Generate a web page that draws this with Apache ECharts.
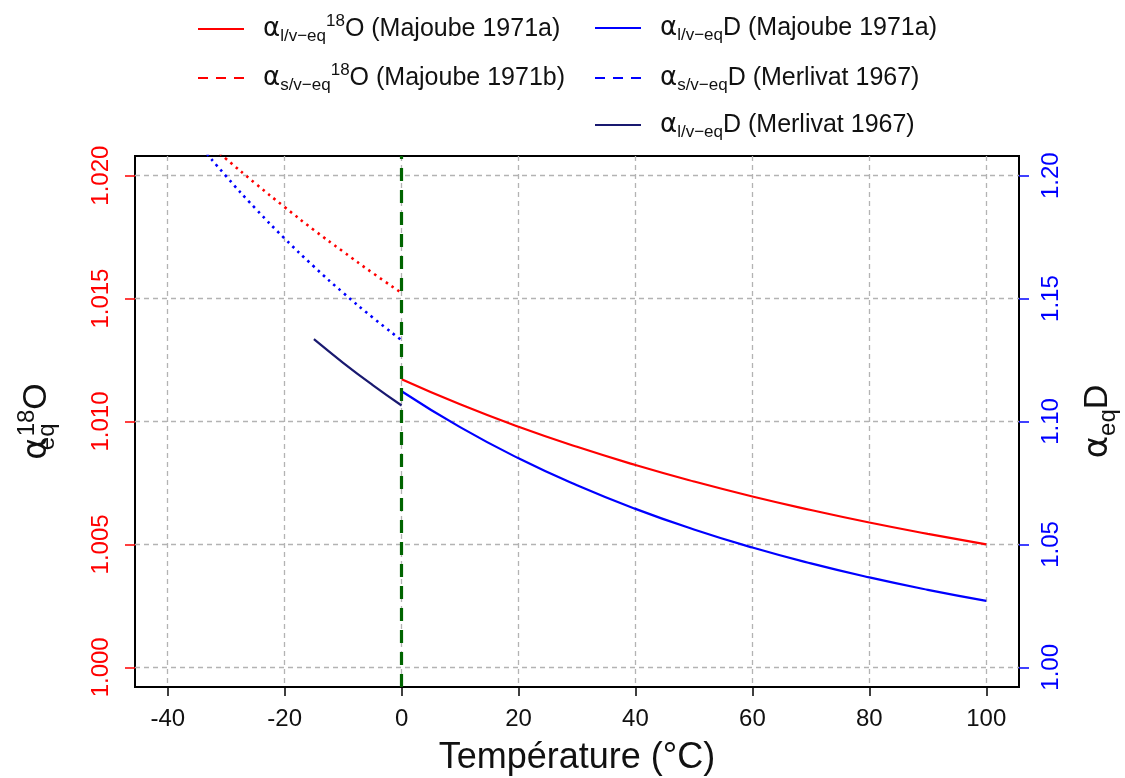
<!DOCTYPE html>
<html><head><meta charset="utf-8">
<script src="https://cdn.jsdelivr.net/npm/echarts@6/dist/echarts.min.js"></script>
<style>html,body{margin:0;padding:0;background:#fff}#c{width:1125px;height:778px}</style>
</head><body><div id="c"></div>
<script>
// ---- data ----
const tempLiquid = [0, 10, 20, 30, 40, 50, 60, 70, 80, 90, 100];
const alphaO18LiquidMajoube = [1.01172, 1.01070, 1.00979, 1.00897, 1.00823, 1.00756, 1.00695, 1.00640, 1.00589, 1.00543, 1.00500];
const alphaDLiquidMajoube = [1.11232, 1.09770, 1.08503, 1.07405, 1.06446, 1.05609, 1.04873, 1.04227, 1.03657, 1.03153, 1.02706];
const tempSolid = [-40, -35, -30, -25, -20, -15, -10, -5, 0];
const alphaO18SolidMajoube = [1.02281, 1.02172, 1.02068, 1.01968, 1.01872, 1.01779, 1.01691, 1.01605, 1.01523];
const alphaDSolidMerlivat = [1.22903, 1.21385, 1.19975, 1.18663, 1.17442, 1.16302, 1.15236, 1.14240, 1.13304];
const tempLiquidMerlivat = [-15, -10, -5, 0];
const alphaDLiquidMerlivat = [1.13347, 1.12389, 1.11493, 1.10652];
const xTicks = [-40, -20, 0, 20, 40, 60, 80, 100];
const yTicksO18 = [1.000, 1.005, 1.010, 1.015, 1.020];
const yTicksD = [1.00, 1.05, 1.10, 1.15, 1.20];
const freezingPoint = 0;

const seriesNames = {
  o18l: '{g|}{a|α}{sub|l/v−eq}{sup|18}{m|O (Majoube 1971a)}',
  o18s: '{g|}{a|α}{sub|s/v−eq}{sup|18}{m|O (Majoube 1971b)}',
  dlm: '{g|}{a|α}{sub|l/v−eq}{m|D (Majoube 1971a)}',
  dsm: '{g|}{a|α}{sub|s/v−eq}{m|D (Merlivat 1967)}',
  dlme: '{g|}{a|α}{sub|l/v−eq}{m|D (Merlivat 1967)}'
};

const FONT = 'Liberation Sans, Arial, sans-serif';
const AFONT = 'DejaVu Sans, sans-serif';
const TXT = '#111';
const zip = (xs, ys) => xs.map((x, i) => [x, ys[i]]);

const legendRich = {
  g: { width: 14, fontSize: 25, lineHeight: 32 },
  a: { fontSize: 26, lineHeight: 32, fontFamily: AFONT, color: TXT },
  m: { fontSize: 25, lineHeight: 32, fontFamily: FONT, color: TXT },
  sub: { fontSize: 17, lineHeight: 13, verticalAlign: 'bottom', fontFamily: FONT, color: TXT },
  sup: { fontSize: 17, lineHeight: 15, verticalAlign: 'top', fontFamily: FONT, color: TXT }
};
function mkLegend(name, left, top, dashed) {
  const l = {
    data: [name], left: left, top: top, orient: 'horizontal',
    itemWidth: 46, itemHeight: 14, padding: 0,
    selectedMode: false,
    itemStyle: { opacity: 0 },
    formatter: n => seriesNames[n],
    textStyle: { fontSize: 25, fontFamily: FONT, color: TXT, rich: legendRich }
  };
  if (dashed) l.lineStyle = { type: [10, 8] };
  return l;
}

const gridLine = { show: true, lineStyle: { color: '#b3b3b3', type: [5, 4], width: 1.3 } };

const option = {
  backgroundColor: '#fff',
  animation: false,
  grid: { left: 135, right: 106, top: 156, bottom: 91, show: true, borderColor: '#000', borderWidth: 2,
          backgroundColor: 'transparent', containLabel: false, outerBoundsMode: 'none' },
  legend: [
    mkLegend('o18l', 197, 13, false),
    mkLegend('o18s', 197, 62, true),
    mkLegend('dlm', 594, 15, false),
    mkLegend('dsm', 594, 65, true),
    mkLegend('dlme', 594, 112, false)
  ],
  xAxis: {
    type: 'value', min: -45.6, max: 105.6,
    name: 'Température (°C)', nameLocation: 'middle', nameGap: 53,
    nameTextStyle: { fontSize: 36, fontFamily: FONT, color: TXT },
    axisLine: { show: false, onZero: false },
    axisTick: { show: true, length: 9, customValues: xTicks, lineStyle: { color: '#000', width: 1.5 } },
    axisLabel: { customValues: xTicks, fontSize: 24, fontFamily: FONT, color: TXT, margin: 20 },
    splitLine: gridLine
  },
  yAxis: [
    {
      type: 'value', min: 0.9992, max: 1.0208, position: 'left',
      name: '{a|α}{sub|eq}{sup|18}{m|O}', nameLocation: 'middle', nameRotate: 90, nameGap: 76,
      nameTextStyle: { fontFamily: FONT, color: TXT, rich: {
        a: { fontSize: 34, lineHeight: 44, fontFamily: AFONT, color: TXT },
        m: { fontSize: 34, lineHeight: 44, fontFamily: FONT, color: TXT },
        sub: { fontSize: 24, lineHeight: 20, width: 1, verticalAlign: 'bottom', fontFamily: FONT, color: TXT },
        sup: { fontSize: 24, lineHeight: 20, verticalAlign: 'top', fontFamily: FONT, color: TXT }
      } },
      axisLine: { show: false, onZero: false },
      axisTick: { show: true, length: 10, customValues: yTicksO18, lineStyle: { color: '#ff0000', width: 1.5 } },
      axisLabel: { customValues: yTicksO18, rotate: 90, fontSize: 24, fontFamily: FONT, color: '#ff0000', margin: 22, formatter: v => v.toFixed(3) },
      splitLine: gridLine
    },
    {
      type: 'value', min: 0.992, max: 1.208, position: 'right',
      name: '{a|α}{sub|eq}{m|D}', nameLocation: 'middle', nameRotate: 90, nameGap: 57,
      nameTextStyle: { fontFamily: FONT, color: TXT, rich: {
        a: { fontSize: 34, lineHeight: 44, fontFamily: AFONT, color: TXT },
        m: { fontSize: 34, lineHeight: 44, fontFamily: FONT, color: TXT },
        sub: { fontSize: 24, lineHeight: 20, verticalAlign: 'bottom', fontFamily: FONT, color: TXT }
      } },
      axisLine: { show: false, onZero: false },
      axisTick: { show: true, length: 10, customValues: yTicksD, lineStyle: { color: '#0000ff', width: 1.5 } },
      axisLabel: { customValues: yTicksD, rotate: 90, fontSize: 24, fontFamily: FONT, color: '#0000ff', margin: 20, formatter: v => v.toFixed(2) },
      splitLine: { show: false }
    }
  ],
  series: [
    {
      name: 'o18l', type: 'line', yAxisIndex: 0, data: zip(tempLiquid, alphaO18LiquidMajoube),
      symbol: 'none', smooth: true, color: '#ff0000', lineStyle: { color: '#ff0000', width: 2.2 }, z: 3,
      markLine: {
        silent: true, symbol: 'none', label: { show: false },
        lineStyle: { color: '#006400', width: 3.2, type: [13, 9] },
        data: [{ xAxis: freezingPoint }]
      }
    },
    {
      name: 'o18s', type: 'line', yAxisIndex: 0, data: zip(tempSolid, alphaO18SolidMajoube),
      symbol: 'none', smooth: true, color: '#ff0000', lineStyle: { color: '#ff0000', width: 2.6, type: [2.5, 4.5] }, z: 2
    },
    {
      name: 'dlm', type: 'line', yAxisIndex: 1, data: zip(tempLiquid, alphaDLiquidMajoube),
      symbol: 'none', smooth: true, color: '#0000ff', lineStyle: { color: '#0000ff', width: 2.2 }, z: 3
    },
    {
      name: 'dsm', type: 'line', yAxisIndex: 1, data: zip(tempSolid, alphaDSolidMerlivat),
      symbol: 'none', smooth: true, color: '#0000ff', lineStyle: { color: '#0000ff', width: 2.6, type: [2.5, 4.5] }, z: 2
    },
    {
      name: 'dlme', type: 'line', yAxisIndex: 1, data: zip(tempLiquidMerlivat, alphaDLiquidMerlivat),
      symbol: 'none', smooth: true, color: '#191970', lineStyle: { color: '#191970', width: 2.2 }, z: 3
    }
  ]
};
const chart = echarts.init(document.getElementById('c'), null, { renderer: 'canvas' });
chart.setOption(option);
</script>
</body></html>
